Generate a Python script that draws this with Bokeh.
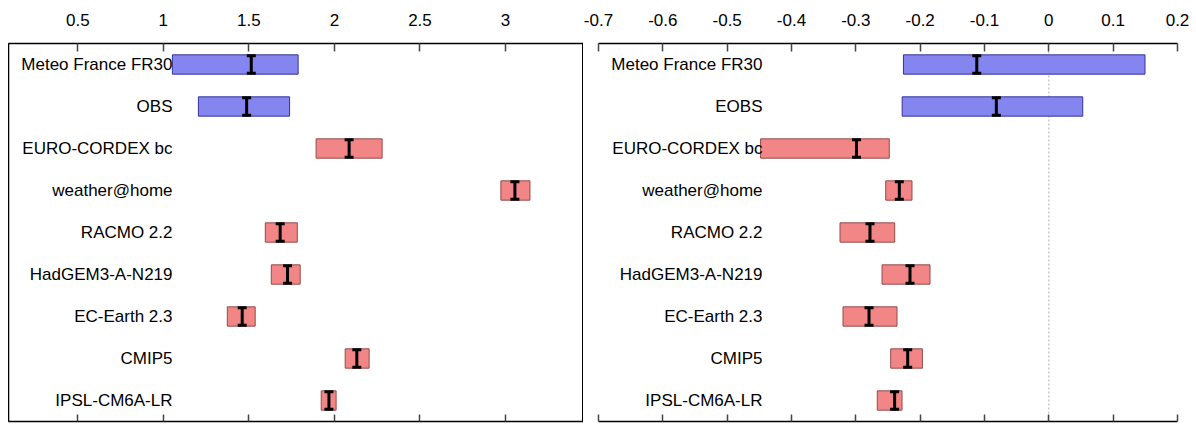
from bokeh.plotting import figure
from bokeh.models import Range1d, LinearAxis, FixedTicker, Span, BoxAnnotation
from bokeh.layouts import row
from bokeh.core.properties import value
from bokeh.embed import file_html
from bokeh.resources import INLINE

# ---------------- data ----------------
left_labels = ["Meteo France FR30", "OBS", "EURO-CORDEX bc", "weather@home", "RACMO 2.2",
               "HadGEM3-A-N219", "EC-Earth 2.3", "CMIP5", "IPSL-CM6A-LR"]
right_labels = ["Meteo France FR30", "EOBS", "EURO-CORDEX bc", "weather@home", "RACMO 2.2",
                "HadGEM3-A-N219", "EC-Earth 2.3", "CMIP5", "IPSL-CM6A-LR"]
n_obs = 2  # first rows are observational datasets

left_lo = [1.053, 1.205, 1.893, 2.973, 1.596, 1.631, 1.374, 2.063, 1.923]
left_hi = [1.788, 1.738, 2.279, 3.143, 1.783, 1.800, 1.537, 2.203, 2.010]
left_med = [1.514, 1.487, 2.086, 3.055, 1.683, 1.726, 1.461, 2.131, 1.968]

right_lo = [-0.226, -0.228, -0.448, -0.2535, -0.3246, -0.2593, -0.3199, -0.2458, -0.2667]
right_hi = [0.1495, 0.0527, -0.248, -0.2127, -0.2396, -0.1847, -0.236, -0.1965, -0.2282]
right_med = [-0.112, -0.0816, -0.299, -0.2324, -0.278, -0.2158, -0.2795, -0.2194, -0.2397]

left_ticks = [0.5, 1, 1.5, 2, 2.5, 3]
left_tick_labels = ["0.5", "1", "1.5", "2", "2.5", "3"]
right_ticks = [-0.7, -0.6, -0.5, -0.4, -0.3, -0.2, -0.1, 0, 0.1, 0.2]
right_tick_labels = ["-0.7", "-0.6", "-0.5", "-0.4", "-0.3", "-0.2", "-0.1", "0", "0.1", "0.2"]

FONT = "Liberation Sans"


def make_panel(labels, lo, hi, med, xr, ticks, tick_labels, width, mbl, mbr, outline, zero_line):
    n = len(labels)
    ys = list(range(1, n + 1))
    p = figure(width=width, height=424, x_range=xr, y_range=Range1d(n + 0.5, 0.5),
               output_backend="svg", toolbar_location=None,
               x_axis_location=None, y_axis_location=None,
               min_border_left=mbl, min_border_right=mbr,
               min_border_top=43, min_border_bottom=3)
    p.grid.visible = False
    p.outline_line_color = "black" if outline else None
    p.outline_line_width = 1
    p.background_fill_color = "white"
    p.border_fill_color = "white"

    overrides = {t: l for t, l in zip(ticks, tick_labels)}
    top = LinearAxis(ticker=FixedTicker(ticks=ticks), major_label_overrides=overrides)
    top.major_tick_in = 8
    top.major_tick_out = 0
    top.minor_tick_line_color = None
    top.axis_line_color = "black"
    top.axis_line_width = 1.5
    top.major_tick_line_color = "#444444"
    top.major_tick_line_width = 1.5
    top.major_label_standoff = 18
    top.major_label_text_font = FONT
    top.major_label_text_font_size = "17px"
    top.major_label_text_color = "black"
    p.add_layout(top, "above")

    bottom = LinearAxis(ticker=FixedTicker(ticks=ticks))
    bottom.major_tick_in = 7
    bottom.major_tick_out = 0
    bottom.minor_tick_line_color = None
    bottom.axis_line_color = "black"
    bottom.axis_line_width = 1.5
    bottom.major_tick_line_color = "#444444"
    bottom.major_tick_line_width = 1.5
    bottom.major_label_text_font_size = "0px"
    bottom.major_label_text_color = None
    bottom.major_label_standoff = 0
    p.add_layout(bottom, "below")

    if outline:
        # the left panel's side borders run up through the tick-label band
        frame_right = width - mbr
        for xc in (mbl + 0.5, frame_right - 0.5):
            try:
                b = BoxAnnotation(left=xc, right=xc, top=10, bottom=421,
                                  left_units="canvas", right_units="canvas",
                                  top_units="canvas", bottom_units="canvas",
                                  fill_color=None, line_color="black", line_width=1,
                                  level="overlay")
                p.add_layout(b)
            except Exception:
                pass

    if zero_line:
        p.add_layout(Span(location=0, dimension="height", line_color="#b0b0b0",
                          line_dash="2 2", line_width=1, level="underlay"))

    fills = ["#8585ef" if i < n_obs else "#f28686" for i in range(n)]
    lines = ["#34349a" if i < n_obs else "#944a4a" for i in range(n)]
    p.hbar(y=ys, left=lo, right=hi, height=0.46, fill_color=fills, line_color=lines, line_width=1)

    half = 0.21
    p.segment(x0=med, y0=[y - half for y in ys], x1=med, y1=[y + half for y in ys],
              line_color="black", line_width=3)
    for s in (-1, 1):
        p.rect(x=med, y=[y + s * half for y in ys], width=9, width_units="screen",
               height=3, height_units="screen", fill_color="black", line_color=None)

    p.text(x=[xr.start] * n, y=ys, text=labels, x_offset=164, text_align="right",
           text_baseline="middle", text_font=value(FONT), text_font_size="17px",
           text_color="black")
    return p


p1 = make_panel(left_labels, left_lo, left_hi, left_med, Range1d(0.095, 3.456),
                left_ticks, left_tick_labels, 583, 8, 0, True, False)
p2 = make_panel(right_labels, right_lo, right_hi, right_med, Range1d(-0.7, 0.2),
                right_ticks, right_tick_labels, 609, 15, 15, False, True)

layout = row(p1, p2)
open("out.html", "w").write(file_html(layout, INLINE))
